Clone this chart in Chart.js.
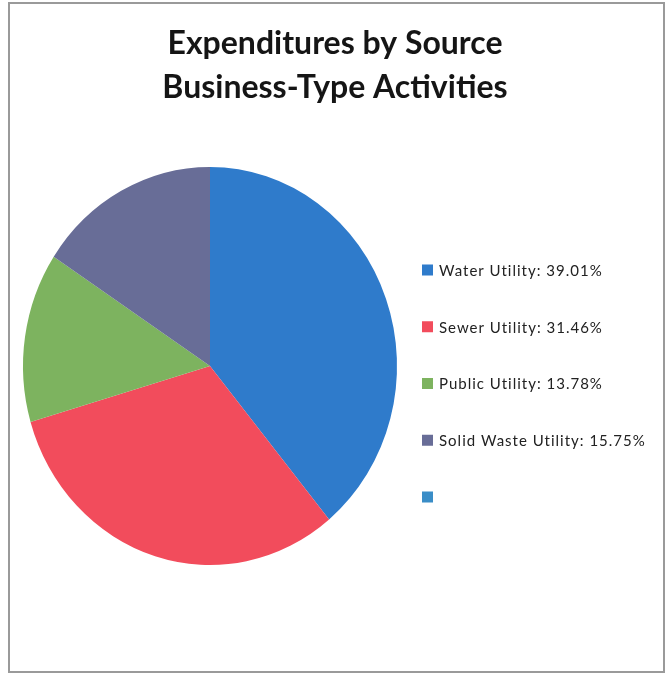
<!DOCTYPE html>
<html>
<head>
<meta charset="utf-8">
<title>Expenditures by Source</title>
<script src="https://cdn.jsdelivr.net/npm/chart.js@4/dist/chart.umd.min.js"></script>
<style>
  html, body { margin: 0; padding: 0; background: #fff; }
  canvas { display: block; }
</style>
</head>
<body>
<canvas id="chart" width="672" height="676"></canvas>
<script>
// Title lines
const titleLines = ['Expenditures by Source', 'Business-Type Activities'];

// Categories and their share of expenditures (percent)
const categories = ['Water Utility', 'Sewer Utility', 'Public Utility', 'Solid Waste Utility', ''];
const shares = [39.01, 31.46, 13.78, 15.75, 0];

// Slice / legend colours
const sliceColors = ['#2F7BCB', '#F24C5C', '#7DB35F', '#686D97', '#3A8DC7'];

// Frame, title and horizontally-compressed pie
const decorPlugin = {
  id: 'decor',
  beforeDraw(chart) {
    const ctx = chart.ctx;
    ctx.save();
    ctx.fillStyle = '#ffffff';
    ctx.fillRect(0, 0, chart.width, chart.height);
    ctx.strokeStyle = '#9a9a9a';
    ctx.lineWidth = 2;
    ctx.strokeRect(9, 3, 655, 669);
    ctx.restore();
  },
  beforeDatasetsDraw(chart) {
    const arc = chart.getDatasetMeta(0).data[0];
    const ctx = chart.ctx;
    ctx.save();
    ctx.translate(arc.x, arc.y);
    ctx.scale(187 / 199, 1);
    ctx.translate(-arc.x, -arc.y);
  },
  afterDatasetsDraw(chart) {
    chart.ctx.restore();
  },
  afterDraw(chart) {
    const ctx = chart.ctx;
    ctx.save();
    // Title
    ctx.fillStyle = '#151515';
    ctx.font = 'bold 32px Lato, "Open Sans", sans-serif';
    ctx.textAlign = 'center';
    ctx.textBaseline = 'alphabetic';
    ctx.fillText(titleLines[0], 335, 54);
    ctx.fillText(titleLines[1], 335, 98);

    // Legend built from the same category / share arrays
    ctx.textAlign = 'left';
    ctx.textBaseline = 'middle';
    ctx.font = '15px Lato, "Open Sans", sans-serif';
    if ('letterSpacing' in ctx) ctx.letterSpacing = '1px';
    const ds = chart.data.datasets[0];
    chart.data.labels.forEach((lab, i) => {
      const y = 270 + i * 56.75;
      ctx.fillStyle = ds.backgroundColor[i];
      ctx.fillRect(422, y - 5.5, 11, 11);
      if (lab) {
        ctx.fillStyle = '#222222';
        ctx.fillText(lab + ': ' + ds.data[i].toFixed(2) + '%', 439, y + 1);
      }
    });
    ctx.restore();
  }
};

new Chart(document.getElementById('chart'), {
  type: 'pie',
  data: {
    labels: categories,
    datasets: [{
      data: shares,
      backgroundColor: sliceColors,
      borderWidth: 0
    }]
  },
  options: {
    responsive: false,
    animation: false,
    layout: { padding: { left: 11, right: 263, top: 167, bottom: 111 } },
    plugins: {
      legend: { display: false },
      title: { display: false },
      tooltip: { enabled: false }
    }
  },
  plugins: [decorPlugin]
});
</script>
</body>
</html>
